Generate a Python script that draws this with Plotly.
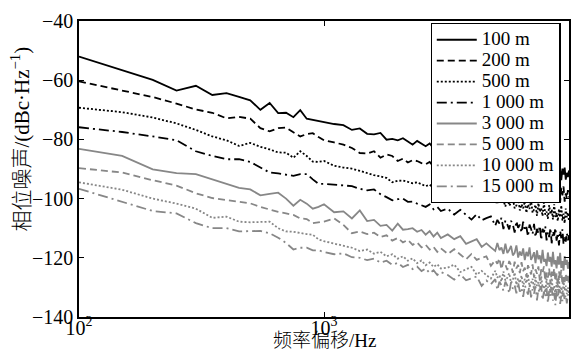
import plotly.graph_objects as go

# Frequency offset (Hz)
freq = [100, 150, 200, 250, 300, 350, 400, 450, 500, 550, 600, 650, 700, 750, 800, 850, 900, 950, 1000,
        1100, 1200, 1300, 1400, 1500, 1600, 1700, 1800, 1900, 2000, 2100, 2200, 2300, 2400, 2500, 2600, 2700, 2800, 2900, 3000,
        3200, 3400, 3600, 3800, 4000, 4200, 4400, 4600, 4800, 5000,
        5100, 5200, 5300, 5400, 5500, 5600, 5700, 5800, 5900, 6000,
        6100, 6200, 6300, 6400, 6500, 6600, 6700, 6800, 6900, 7000,
        7100, 7200, 7300, 7400, 7500, 7600, 7700, 7800, 7900, 8000,
        8100, 8200, 8300, 8400, 8500, 8600, 8700, 8800, 8900, 9000,
        9100, 9200, 9300, 9400, 9500, 9600, 9700, 9800, 9900, 10000]

# Phase noise (dBc/Hz) per distance
pn_100 = [-52.0, -56.5, -59.9, -63.5, -61.9, -65.0, -64.4, -65.6, -66.8, -70.0, -67.7, -71.1, -71.0, -72.5, -70.1, -73.0, -73.4, -73.7, -74.3,
          -74.8, -75.2, -76.8, -76.3, -78.1, -78.3, -77.8, -80.1, -79.8, -80.3, -79.6, -80.7, -81.8, -80.5, -81.5, -82.3, -81.4, -83.0, -82.1, -83.5,
          -82.6, -84.1, -83.7, -85.4, -84.0, -85.4, -86.7, -85.3, -86.8, -86.2,
          -85.7, -88.2, -86.5, -87.5, -86.0, -89.0, -86.7, -87.8, -89.2, -86.9,
          -87.8, -90.0, -87.0, -88.8, -87.9, -90.1, -87.2, -89.6, -88.6, -91.1,
          -88.0, -89.2, -90.5, -87.8, -91.4, -89.1, -90.3, -88.4, -92.2, -89.3,
          -90.2, -88.5, -92.3, -90.0, -91.5, -89.0, -93.1, -89.8, -91.1, -89.0,
          -92.5, -90.4, -93.8, -89.9, -91.9, -89.5, -93.6, -91.3, -92.7, -90.5]
pn_200 = [-60.4, -63.5, -65.7, -67.9, -69.9, -71.0, -72.9, -72.4, -73.0, -76.2, -77.3, -76.2, -76.0, -77.6, -79.0, -78.2, -77.9, -79.2, -80.3,
          -81.0, -81.8, -82.9, -84.6, -84.8, -84.0, -86.2, -85.1, -85.6, -87.3, -86.5, -87.8, -87.0, -87.3, -88.0, -88.4, -87.6, -89.2, -88.4, -89.5,
          -89.9, -89.3, -91.3, -89.7, -91.4, -92.9, -91.1, -93.1, -92.3, -91.7,
          -94.8, -92.8, -93.9, -92.1, -95.8, -93.0, -94.2, -96.0, -93.0, -94.3,
          -97.0, -93.1, -95.5, -94.3, -97.0, -93.4, -96.4, -95.1, -98.3, -94.3,
          -95.8, -97.5, -94.0, -98.5, -95.7, -97.2, -94.7, -99.5, -95.7, -97.0,
          -94.8, -99.6, -96.7, -98.5, -95.4, -100.6, -96.4, -98.0, -95.4, -99.7,
          -97.1, -101.3, -96.4, -98.9, -95.9, -101.0, -98.2, -99.9, -97.1, -99.6]
pn_500 = [-69.3, -70.8, -72.6, -74.6, -76.8, -79.0, -80.3, -82.2, -81.2, -82.5, -83.4, -84.4, -84.5, -86.2, -84.0, -85.6, -87.5, -87.6, -87.3,
          -88.9, -89.5, -89.9, -90.6, -91.5, -92.1, -92.5, -93.0, -94.5, -94.0, -93.9, -94.3, -94.8, -94.5, -95.2, -95.8, -95.3, -96.5, -96.0, -97.0,
          -97.4, -96.5, -98.1, -97.1, -99.6, -98.7, -98.0, -100.6, -99.3, -100.7,
          -101.8, -99.1, -101.4, -100.6, -102.7, -99.3, -102.4, -101.5, -100.0, -103.3,
          -102.3, -99.8, -104.0, -101.9, -103.3, -100.9, -104.8, -102.0, -103.5, -100.5,
          -104.8, -103.6, -102.1, -105.8, -101.5, -104.5, -103.2, -105.9, -101.3, -105.4,
          -104.4, -106.8, -102.2, -105.3, -103.7, -107.0, -101.9, -106.2, -104.8, -107.6,
          -103.5, -106.3, -102.3, -107.4, -105.1, -108.3, -103.4, -106.3, -104.7, -107.7]
pn_1000 = [-75.9, -77.5, -79.0, -80.3, -84.0, -85.6, -86.7, -86.7, -87.6, -89.5, -91.2, -91.5, -92.0, -92.3, -91.7, -91.7, -93.5, -95.0, -95.0,
           -95.3, -95.6, -95.8, -96.7, -97.2, -96.9, -98.5, -99.5, -100.6, -100.2, -100.0, -101.1, -101.0, -101.7, -102.2, -102.8, -102.0, -103.6, -102.8, -104.2,
           -103.4, -105.4, -103.8, -105.6, -107.1, -105.3, -107.3, -106.6, -106.0, -109.2,
           -107.2, -108.4, -106.5, -110.3, -107.4, -108.7, -110.4, -107.5, -108.7, -111.5,
           -107.6, -109.9, -108.8, -111.5, -107.8, -110.9, -109.6, -112.8, -108.8, -110.2,
           -112.0, -108.5, -113.0, -110.2, -111.7, -109.2, -114.0, -110.2, -111.4, -109.3,
           -114.1, -111.2, -113.0, -109.9, -115.1, -111.0, -112.5, -109.9, -114.2, -111.6,
           -115.8, -110.9, -113.4, -110.4, -115.5, -112.7, -114.5, -111.6, -114.1, -112.4]
pn_3000 = [-83.2, -85.6, -90.1, -91.4, -91.7, -93.4, -95.0, -96.4, -96.9, -98.9, -98.4, -98.0, -100.0, -102.4, -100.4, -101.7, -103.4, -102.8, -101.9,
           -104.6, -104.3, -106.7, -104.0, -107.6, -107.2, -109.2, -108.9, -110.8, -108.5, -110.5, -110.3, -110.0, -111.2, -110.6, -112.2, -111.0, -112.8, -111.5, -113.3,
           -112.1, -113.7, -112.7, -115.3, -114.4, -113.7, -116.3, -115.1, -116.5, -117.7,
           -115.0, -117.4, -116.5, -118.7, -115.2, -118.4, -117.4, -116.0, -119.2, -118.3,
           -115.8, -119.9, -117.9, -119.3, -116.8, -120.8, -118.0, -119.5, -116.5, -120.7,
           -119.6, -118.1, -121.8, -117.5, -120.5, -119.2, -121.9, -117.3, -121.3, -120.4,
           -122.8, -118.2, -121.3, -119.7, -123.0, -118.0, -122.2, -120.8, -123.6, -119.5,
           -122.3, -118.3, -123.4, -121.1, -124.3, -119.4, -122.4, -120.7, -123.7, -121.4]
pn_5000 = [-89.7, -91.2, -93.8, -95.6, -98.2, -99.8, -100.5, -101.0, -101.6, -102.8, -103.8, -104.5, -105.0, -105.5, -106.7, -106.9, -108.3, -108.0, -107.8,
           -106.7, -108.9, -111.7, -111.1, -112.0, -111.5, -113.0, -112.4, -114.2, -113.3, -114.8, -114.0, -115.6, -114.8, -116.5, -115.6, -117.2, -116.3, -118.0, -116.8,
           -118.7, -117.1, -118.9, -120.5, -118.7, -120.7, -120.0, -119.5, -122.7, -120.8,
           -122.0, -120.2, -123.9, -121.1, -122.3, -124.1, -121.1, -122.4, -125.1, -121.3,
           -123.6, -122.4, -125.2, -121.5, -124.5, -123.3, -126.5, -122.5, -123.9, -125.6,
           -122.2, -126.7, -123.9, -125.4, -122.9, -127.7, -123.9, -125.1, -122.9, -127.8,
           -124.9, -126.7, -123.6, -128.8, -124.7, -126.3, -123.6, -127.9, -125.3, -129.5,
           -124.6, -127.1, -124.1, -129.2, -126.4, -128.2, -125.4, -127.8, -126.1, -129.1]
pn_10000 = [-94.5, -97.0, -100.0, -101.7, -103.4, -106.5, -106.1, -107.8, -108.0, -107.9, -107.8, -110.0, -111.1, -111.2, -111.7, -112.0, -112.2, -113.8, -114.4,
            -115.2, -116.0, -116.6, -117.7, -117.2, -118.6, -118.0, -119.5, -118.8, -120.3, -119.5, -121.0, -120.2, -121.8, -120.9, -122.5, -121.6, -123.1, -122.2, -123.6,
            -123.3, -122.3, -124.8, -123.9, -123.1, -125.7, -124.4, -125.9, -127.0, -124.4,
            -126.7, -125.9, -128.0, -124.6, -127.7, -126.7, -125.2, -128.5, -127.5, -125.0,
            -129.1, -127.0, -128.5, -126.0, -129.8, -127.1, -128.6, -125.6, -129.8, -128.6,
            -127.1, -130.8, -126.5, -129.5, -128.2, -130.9, -126.2, -130.2, -129.2, -131.7,
            -127.1, -130.1, -128.5, -131.8, -126.8, -131.1, -129.6, -132.4, -128.3, -131.0,
            -127.0, -132.1, -129.8, -133.0, -128.1, -131.1, -129.4, -132.3, -130.0, -131.9]
pn_15000 = [-96.7, -101.0, -104.2, -105.0, -108.3, -110.0, -110.0, -111.1, -111.1, -110.9, -111.7, -113.2, -115.0, -117.2, -116.6, -116.6, -117.5, -117.5, -118.0,
            -118.8, -118.5, -119.8, -120.0, -120.8, -120.3, -121.6, -121.0, -122.4, -121.7, -123.1, -122.4, -123.8, -123.0, -124.5, -123.6, -125.2, -124.2, -125.8, -124.8,
            -125.8, -127.4, -125.6, -127.6, -126.8, -126.3, -129.5, -127.7, -128.9, -127.2,
            -130.9, -128.1, -129.3, -131.1, -128.1, -129.3, -132.0, -128.2, -130.5, -129.3,
            -132.0, -128.3, -131.4, -130.1, -133.2, -129.3, -130.7, -132.4, -128.9, -133.4,
            -130.6, -132.1, -129.6, -134.4, -130.6, -131.8, -129.5, -134.3, -131.4, -133.3,
            -130.2, -135.3, -131.2, -132.8, -130.2, -134.5, -131.8, -136.0, -131.1, -133.5,
            -130.5, -135.6, -132.8, -134.6, -131.8, -134.3, -132.5, -135.4, -132.3, -134.1]

labels = ["100 m", "200 m", "500 m", "1 000 m", "3 000 m", "5 000 m", "10 000 m", "15 000 m"]
series = [pn_100, pn_200, pn_500, pn_1000, pn_3000, pn_5000, pn_10000, pn_15000]

x_tickvals = [100, 1000, 10000]
x_ticktext = ["10<sup>2</sup>", "10<sup>3</sup>", "10<sup>4</sup>"]
y_tickvals = [-40, -60, -80, -100, -120, -140]
y_ticktext = ["−40", "−60", "−80", "−100", "−120", "−140"]

BLACK = "#000000"
GRAY = "#878787"
dashdot = "10px,4px,2px,4px"
styles = [
    (BLACK, "solid"), (BLACK, "7px,4px"), (BLACK, "2px,2px"), (BLACK, dashdot),
    (GRAY, "solid"), (GRAY, "7px,4px"), (GRAY, "2px,2px"), (GRAY, dashdot),
]

serif = "Liberation Serif"
cjk = "Liberation Serif, Noto Sans CJK SC"

fig = go.Figure()
for lab, vals, (col, dash) in zip(labels, series, styles):
    fig.add_trace(go.Scatter(x=freq, y=vals, mode="lines",
                             name='<span style="font-size:19px">' + lab + '</span>',
                             line=dict(color=col, width=1.8, dash=dash)))

fig.update_layout(
    width=581, height=363,
    margin=dict(l=79, r=10, t=16, b=46),
    plot_bgcolor="white", paper_bgcolor="white",
    showlegend=True,
    legend=dict(x=0.7175, y=0.993, xanchor="left", yanchor="top",
                bgcolor="white", bordercolor="black", borderwidth=1.2,
                font=dict(family=serif, size=13.8, color="black"),
                itemwidth=40, tracegroupgap=0),
    xaxis=dict(type="log", range=[2, 4], tickvals=x_tickvals, ticktext=x_ticktext,
               ticks="inside", ticklen=5, tickwidth=1.2, tickcolor="black",
               showline=True, linecolor="black", linewidth=1.5, mirror="ticks",
               showgrid=False, zeroline=False, ticklabelstandoff=-8,
               tickfont=dict(family=serif, size=20, color="black")),
    yaxis=dict(range=[-140, -40], tickvals=y_tickvals, ticktext=y_ticktext,
               ticks="inside", ticklen=5, tickwidth=1.2, tickcolor="black",
               showline=True, linecolor="black", linewidth=1.5, mirror="ticks",
               showgrid=False, zeroline=False,
               tickfont=dict(family=serif, size=20, color="black")),
    annotations=[
        dict(text="频率偏移/Hz", xref="paper", yref="paper", x=0.5, y=-0.078,
             xanchor="center", yanchor="middle", showarrow=False,
             font=dict(family=cjk, size=19, color="black", weight=300)),
        dict(text="相位噪声/(dBc·Hz<sup>−1</sup>)", xref="paper", yref="paper",
             x=-0.12, y=0.6, xanchor="center", yanchor="middle", textangle=-90,
             showarrow=False, font=dict(family=cjk, size=21, color="black", weight=300)),
    ],
)

fig.write_html("out.html", config={"displayModeBar": False},
               post_script="document.body.style.margin='0';document.body.style.overflow='hidden';")
